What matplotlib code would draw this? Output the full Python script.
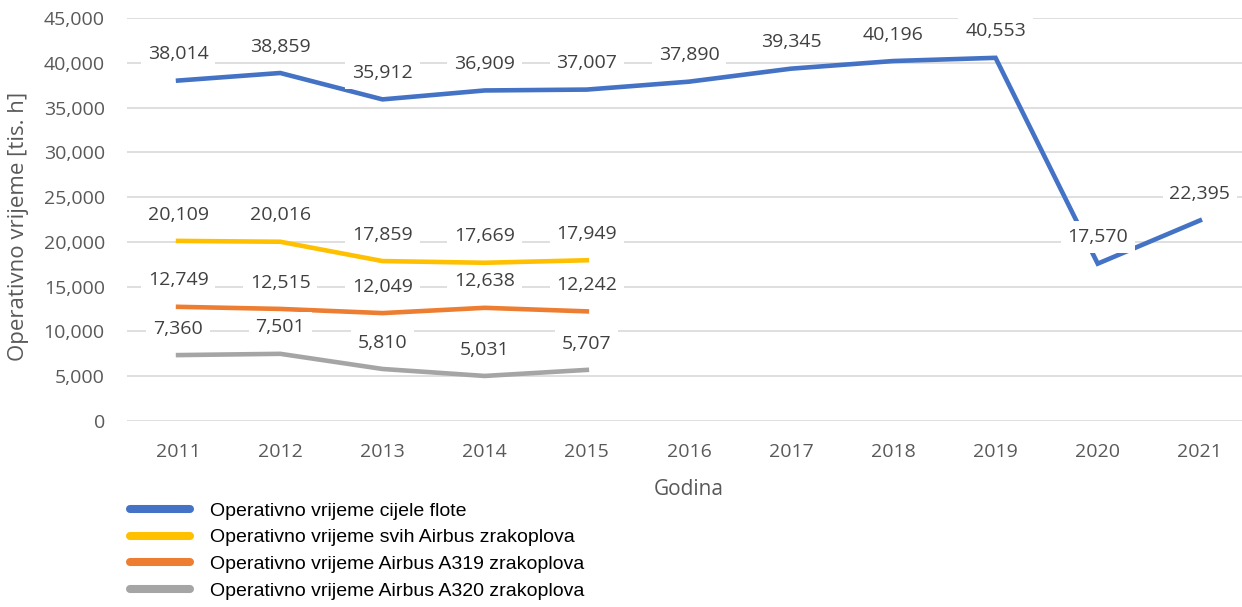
import matplotlib
matplotlib.use("Agg")
import matplotlib.pyplot as plt
from matplotlib.lines import Line2D
from matplotlib import font_manager
from matplotlib.ticker import FuncFormatter, MultipleLocator

years = ["2011", "2012", "2013", "2014", "2015", "2016", "2017", "2018", "2019", "2020", "2021"]
fleet = [38014, 38859, 35912, 36909, 37007, 37890, 39345, 40196, 40553, 17570, 22395]
airbus_all = [20109, 20016, 17859, 17669, 17949]
airbus_a319 = [12749, 12515, 12049, 12638, 12242]
airbus_a320 = [7360, 7501, 5810, 5031, 5707]

series_names = [
    "Operativno vrijeme cijele flote",
    "Operativno vrijeme svih Airbus zrakoplova",
    "Operativno vrijeme Airbus A319 zrakoplova",
    "Operativno vrijeme Airbus A320 zrakoplova",
]
colors = ["#4472C4", "#FFC000", "#ED7D31", "#A5A5A5"]

avail = {f.name for f in font_manager.fontManager.ttflist}
main_font = "Open Sans" if "Open Sans" in avail else "DejaVu Sans"
legend_font = "Liberation Sans" if "Liberation Sans" in avail else "DejaVu Sans"

W, H = 1242, 607
fig = plt.figure(figsize=(W / 100, H / 100), dpi=100)
left_px, right_px, top_px, bottom_px = 127, 1251, 18, 421
ax = fig.add_axes([left_px / W, 1 - bottom_px / H, (right_px - left_px) / W, (bottom_px - top_px) / H])

x_all = list(range(len(years)))
data = [fleet, airbus_all, airbus_a319, airbus_a320]
for vals, c in zip(data, colors):
    xs = x_all[:len(vals)]
    ax.plot(xs, vals, color=c, lw=3.3, solid_joinstyle="miter", zorder=3)
    for xi, v in zip(xs, vals):
        ax.annotate(f"{v:,}", (xi, v), xytext=(0, 19), textcoords="offset points",
                    ha="center", va="center", fontsize=14, color="#404040",
                    family=main_font, zorder=5,
                    bbox=dict(boxstyle="square,pad=0.35", fc="white", ec="none"))

ax.set_xlim(-0.5, len(years) - 0.5)
ax.set_ylim(0, 45000)
ax.yaxis.set_major_locator(MultipleLocator(5000))
ax.yaxis.set_major_formatter(FuncFormatter(lambda v, p: f"{int(v):,}"))
ax.set_xticks(x_all)
ax.set_xticklabels(years, family=main_font, fontsize=14, color="#595959")
for lab in ax.get_yticklabels():
    lab.set_family(main_font)
    lab.set_fontsize(14)
    lab.set_color("#595959")
ax.tick_params(axis="both", length=0)
ax.tick_params(axis="y", pad=16)
ax.tick_params(axis="x", pad=16)
ax.grid(axis="y", color="#D9D9D9", lw=1.2, zorder=0)
for s in ax.spines.values():
    s.set_visible(False)

ax.set_xlabel("Godina", family=main_font, fontsize=15, color="#595959", labelpad=13)
fig.text(19 / W, 1 - 226 / H, "Operativno vrijeme [tis. h]", rotation=90, ha="center", va="center",
         family=main_font, fontsize=16, color="#595959")

handles = [Line2D([0], [0], color=c, lw=5.8, solid_capstyle="round") for c in colors]
leg = fig.legend(handles, series_names, loc="upper left", bbox_to_anchor=(130 / W, 1 - 502 / H),
                 frameon=False, handlelength=3.1, handletextpad=1.0, labelspacing=0.47,
                 prop={"family": legend_font, "size": 14}, borderpad=0, borderaxespad=0)
for t in leg.get_texts():
    t.set_color("#000000")

fig.savefig("out.png", dpi=100, facecolor="white")
